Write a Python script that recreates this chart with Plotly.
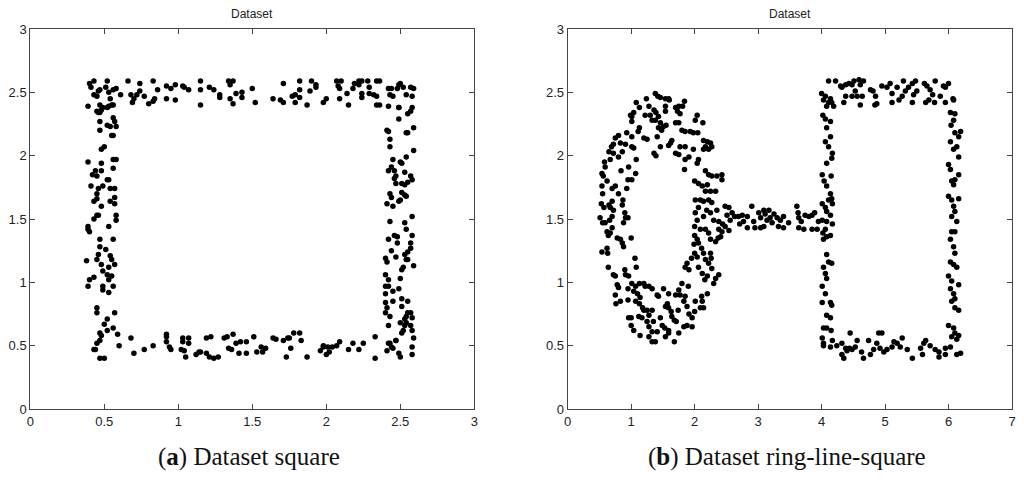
import plotly.graph_objects as go

# ---------------- Data: (a) Dataset square ----------------
sq_top = [(0.39,2.39),(0.40,2.57),(0.41,2.54),(0.43,2.59),(0.43,2.48),(0.45,2.47),(0.46,2.51),(0.47,2.52),
          (0.52,2.59),(0.51,2.54),(0.53,2.50),(0.56,2.52),(0.58,2.53),(0.61,2.48),(0.66,2.59),(0.68,2.48),
          (0.69,2.42),(0.70,2.45),(0.72,2.48),(0.74,2.57),(0.74,2.51),(0.77,2.47),(0.80,2.41),(0.83,2.59),
          (0.83,2.43),(0.84,2.45),(0.86,2.52),(0.92,2.55),(0.92,2.45),(0.95,2.53),(0.98,2.56),(0.98,2.44),
          (1.03,2.55),(1.04,2.54),(1.07,2.52),(1.15,2.59),(1.15,2.52),(1.15,2.40),(1.21,2.54),(1.24,2.52),
          (1.28,2.48),(1.28,2.46),(1.34,2.59),(1.35,2.56),(1.37,2.59),(1.35,2.45),(1.37,2.41),(1.39,2.49),
          (1.43,2.50),(1.43,2.46),(1.50,2.53),(1.52,2.42),(1.64,2.45),(1.69,2.44),(1.71,2.42),(1.71,2.57),
          (1.77,2.47),(1.79,2.48),(1.79,2.42),(1.82,2.59),(1.82,2.52),(1.82,2.46),(1.87,2.40),(1.89,2.51),
          (1.90,2.59),(1.93,2.56),(1.93,2.54),(1.98,2.42),(2.00,2.45),(2.07,2.59),(2.08,2.55),(2.09,2.53),
          (2.10,2.59),(2.09,2.45),(2.14,2.49),(2.15,2.40),(2.18,2.53),(2.19,2.57),(2.22,2.59),(2.22,2.56),
          (2.24,2.59),(2.24,2.49),(2.24,2.46),(2.28,2.59),(2.29,2.54),(2.29,2.49),(2.32,2.48),(2.34,2.47),
          (2.34,2.59),(2.36,2.59),(2.34,2.40),(2.36,2.40),(2.42,2.53),(2.44,2.53),(2.43,2.48),(2.45,2.47),
          (2.48,2.53),(2.49,2.56),(2.50,2.57),(2.52,2.54),(2.54,2.48),(2.57,2.54),(2.59,2.53),(2.58,2.47),
          (2.42,2.39),(2.49,2.38)]
sq_left = [(0.45,2.35),(0.46,2.34),(0.47,2.34),(0.48,2.36),(0.47,2.40),(0.49,2.38),(0.52,2.38),(0.53,2.39),
           (0.54,2.45),(0.55,2.40),(0.56,2.40),(0.47,2.27),(0.47,2.20),(0.52,2.24),(0.54,2.23),(0.56,2.30),
           (0.57,2.27),(0.58,2.23),(0.55,2.16),(0.56,2.16),(0.48,2.05),(0.50,2.07),(0.39,1.95),(0.48,1.94),
           (0.56,1.97),(0.58,1.97),(0.56,1.90),(0.44,1.88),(0.48,1.88),(0.42,1.85),(0.45,1.84),(0.52,1.81),
           (0.53,1.81),(0.49,1.76),(0.41,1.76),(0.46,1.74),(0.54,1.74),(0.57,1.74),(0.45,1.70),(0.45,1.66),
           (0.57,1.67),(0.43,1.64),(0.54,1.64),(0.57,1.62),(0.48,1.60),(0.58,1.53),(0.45,1.53),(0.46,1.53),
           (0.43,1.50),(0.58,1.49),(0.39,1.44),(0.39,1.42),(0.40,1.40),(0.53,1.44),(0.47,1.34),(0.56,1.34),
           (0.47,1.28),(0.51,1.26),(0.54,1.21),(0.46,1.22),(0.45,1.18),(0.38,1.17),(0.55,1.18),(0.57,1.14),
           (0.48,1.14),(0.49,1.09),(0.52,1.06),(0.53,1.12),(0.55,1.05),(0.40,1.02),(0.43,1.04),(0.53,1.02),
           (0.39,0.97),(0.49,0.97),(0.49,0.94),(0.56,0.97),(0.53,0.92),(0.45,0.80),(0.45,0.76),(0.57,0.76),
           (0.52,0.71),(0.50,0.67),(0.56,0.64),(0.52,0.62),(0.47,0.60),(0.48,0.58),(0.59,0.59),(0.47,0.54),
           (0.45,0.52),(0.43,0.47),(0.44,0.47),(0.47,0.40),(0.50,0.40),(0.60,0.50)]
sq_bottom = [(0.68,0.56),(0.70,0.44),(0.77,0.47),(0.83,0.50),(0.92,0.59),(0.92,0.57),(0.92,0.53),(0.94,0.49),
             (0.95,0.47),(1.03,0.56),(1.03,0.53),(1.02,0.47),(1.04,0.46),(1.05,0.41),(1.07,0.56),(1.07,0.52),
             (1.12,0.43),(1.14,0.45),(1.15,0.45),(1.19,0.56),(1.22,0.57),(1.19,0.44),(1.21,0.41),(1.24,0.40),
             (1.27,0.41),(1.31,0.56),(1.33,0.57),(1.34,0.48),(1.36,0.47),(1.37,0.59),(1.39,0.52),(1.42,0.53),
             (1.41,0.44),(1.46,0.53),(1.46,0.44),(1.51,0.57),(1.53,0.45),(1.56,0.49),(1.57,0.45),(1.59,0.48),
             (1.64,0.56),(1.66,0.55),(1.71,0.54),(1.74,0.56),(1.75,0.56),(1.76,0.48),(1.73,0.41),(1.78,0.60),
             (1.82,0.60),(1.83,0.54),(1.87,0.41),(1.96,0.46),(1.98,0.49),(1.98,0.50),(2.00,0.43),(2.01,0.49),
             (2.02,0.45),(2.04,0.49),(2.07,0.50),(2.09,0.53),(2.15,0.47),(2.18,0.52),(2.22,0.47),(2.25,0.52),
             (2.33,0.57),(2.33,0.40),(2.41,0.46),(2.43,0.52),(2.44,0.49),(2.45,0.48),(2.47,0.54),(2.49,0.44),
             (2.50,0.41),(2.58,0.43),(2.58,0.49),(2.59,0.56)]
sq_right = [(2.49,2.29),(2.49,2.38),(2.58,2.38),(2.57,2.35),(2.55,2.33),(2.41,2.20),(2.42,2.19),(2.54,2.18),
            (2.55,2.18),(2.59,2.22),(2.43,2.13),(2.43,2.07),(2.59,2.04),(2.54,1.99),(2.45,1.97),(2.50,1.95),
            (2.51,1.94),(2.42,1.88),(2.44,1.91),(2.46,1.88),(2.53,1.87),(2.57,1.84),(2.58,1.81),(2.47,1.84),
            (2.46,1.82),(2.47,1.78),(2.51,1.78),(2.53,1.77),(2.55,1.79),(2.43,1.70),(2.51,1.71),(2.53,1.69),
            (2.54,1.68),(2.44,1.67),(2.49,1.64),(2.50,1.65),(2.41,1.62),(2.45,1.60),(2.58,1.52),(2.53,1.47),
            (2.54,1.42),(2.43,1.48),(2.58,1.37),(2.46,1.37),(2.48,1.36),(2.42,1.34),(2.48,1.31),(2.57,1.31),
            (2.57,1.27),(2.55,1.24),(2.53,1.22),(2.44,1.25),(2.40,1.19),(2.41,1.16),(2.47,1.20),(2.54,1.18),
            (2.55,1.18),(2.59,1.13),(2.52,1.12),(2.51,1.10),(2.40,1.06),(2.50,1.03),(2.42,1.02),(2.42,0.97),
            (2.40,0.97),(2.49,0.95),(2.45,0.93),(2.40,0.91),(2.51,0.87),(2.55,0.85),(2.40,0.84),(2.45,0.85),
            (2.41,0.80),(2.51,0.81),(2.55,0.76),(2.57,0.76),(2.40,0.76),(2.43,0.73),(2.54,0.73),(2.53,0.71),
            (2.58,0.72),(2.42,0.66),(2.50,0.68),(2.54,0.68),(2.57,0.66),(2.58,0.62),(2.53,0.66),(2.52,0.62),
            (2.51,0.60),(2.47,0.54),(2.42,0.52)]

# ---------------- Data: (b) Dataset ring-line-square ----------------
ring_pts = [(1.38,2.49),(1.42,2.47),(1.46,2.46),(1.54,2.45),(1.60,2.44),(1.59,2.45),(1.24,2.45),(1.28,2.39),
            (1.08,2.42),(1.13,2.38),(1.22,2.32),(1.30,2.32),(1.36,2.36),(1.39,2.34),(1.43,2.31),(1.33,2.28),
            (1.38,2.28),(1.46,2.26),(1.51,2.23),(1.55,2.24),(1.48,2.20),(1.43,2.22),(1.54,2.35),(1.54,2.39),
            (1.70,2.38),(1.75,2.39),(1.73,2.35),(1.77,2.33),(1.84,2.43),(1.81,2.39),(1.70,2.26),(1.75,2.26),
            (1.62,2.10),(1.59,2.08),(1.46,2.07),(1.41,2.15),(1.39,2.00),(1.36,2.02),(1.20,2.14),(1.25,2.13),
            (1.13,2.22),(1.11,2.19),(0.99,2.32),(1.01,2.31),(1.04,2.34),(1.01,2.27),(0.93,2.18),(1.01,2.15),
            (0.91,2.09),(1.01,2.07),(1.04,2.06),(0.80,2.16),(0.75,2.14),(0.72,2.09),(0.69,2.07),(0.83,2.10),
            (0.86,2.03),(0.65,2.03),(0.72,2.02),(0.58,1.95),(0.67,1.97),(0.80,1.99),(1.08,1.97),(0.96,1.91),
            (1.07,1.86),(0.84,1.88),(0.59,1.91),(0.54,1.86),(0.56,1.84),(0.62,1.80),(0.70,1.74),(0.75,1.76),
            (0.80,1.70),(0.95,1.81),(1.01,1.81),(0.93,1.74),(0.54,1.76),(0.55,1.70),(0.53,1.62),(0.57,1.59),
            (0.65,1.61),(0.70,1.64),(0.67,1.59),(0.72,1.57),(0.87,1.65),(0.86,1.61),(0.90,1.55),(0.91,1.51),
            (0.95,1.51),(0.88,1.47),(0.51,1.51),(0.55,1.47),(0.59,1.47),(0.66,1.49),(0.70,1.52),(0.70,1.43),
            (0.62,1.40),(0.67,1.39),(0.64,1.37),(0.78,1.35),(0.83,1.34),(1.00,1.35),(0.54,1.24),(0.62,1.27),
            (0.63,1.23),(0.88,1.28),(0.86,1.31),(0.64,1.12),(1.06,1.19),(1.08,1.12),(0.72,1.06),(0.75,1.05),
            (0.90,1.10),(0.91,1.06),(0.78,0.98),(0.80,0.96),(0.75,0.90),(0.76,0.83),(0.83,0.85),(0.96,1.05),
            (1.01,0.99),(0.95,0.95),(1.07,0.97),(1.04,0.93),(1.13,0.99),(1.20,0.99),(1.22,0.97),(1.28,0.97),
            (1.33,0.95),(1.10,0.91),(1.14,0.88),(0.95,0.86),(1.07,0.85),(1.13,0.83),(1.18,0.80),(1.20,0.78),
            (1.25,0.78),(1.33,0.78),(1.28,0.74),(1.12,0.73),(1.17,0.72),(0.96,0.72),(1.00,0.72),(1.25,0.69),
            (1.35,0.69),(1.28,0.65),(1.33,0.61),(1.41,0.61),(1.00,0.66),(1.04,0.62),(1.14,0.58),(1.28,0.57),
            (1.33,0.53),(1.38,0.53),(1.41,0.90),(1.43,0.89),(1.51,0.95),(1.59,0.91),(1.57,0.83),(1.54,0.81),
            (1.59,0.80),(1.63,0.77),(1.64,0.73),(1.68,0.70),(1.71,0.69),(1.46,0.72),(1.49,0.66),(1.53,0.64),
            (1.59,0.62),(1.59,0.60),(1.54,0.57),(1.68,0.53),(1.75,0.60),(1.83,0.65),(1.88,0.66),(1.96,0.65),
            (1.96,0.72),(2.00,0.77),(2.01,0.85),(2.09,0.80),(2.14,0.80),(2.12,0.85),(2.20,0.91),(2.11,0.89),
            (1.70,0.90),(1.75,0.94),(1.80,0.99),(1.77,0.90),(1.85,0.89),(1.90,0.97),(1.83,0.85),(1.88,0.81),
            (1.91,0.75),(1.74,0.78),(1.85,1.12),(1.88,1.15),(1.91,1.10),(1.95,1.19),(2.00,1.23),(2.04,1.20),
            (1.99,1.30),(2.04,1.34),(2.06,1.31),(2.11,1.27),(2.14,1.23),(2.17,1.18),(2.22,1.15),(2.26,1.19),
            (2.25,1.23),(2.27,1.11),(2.06,1.12),(2.12,1.07),(2.16,1.02),(2.20,1.05),(2.30,0.99),(2.33,1.03),
            (2.38,1.06),(2.33,1.32),(2.37,1.35),(2.41,1.36),(2.25,1.34),(2.22,1.39),(2.17,1.42),(2.09,1.42),
            (2.00,1.37),(2.00,1.44),(2.04,1.49),(2.01,1.55),(2.06,1.59),(2.01,1.65),(2.09,1.65),(2.14,1.64),
            (2.22,1.65),(2.27,1.63),(2.35,1.57),(2.19,1.57),(2.25,1.55),(2.14,1.52),(2.30,1.49),(2.38,1.48),
            (2.44,1.46),(2.38,1.42),(2.06,1.78),(2.00,1.80),(2.12,1.76),(2.17,1.88),(2.22,1.85),(2.27,1.84),
            (2.35,1.84),(2.43,1.85),(2.43,1.81),(2.20,1.77),(2.17,1.72),(2.25,1.72),(2.33,1.72),(1.84,1.89),
            (1.85,1.97),(1.91,1.99),(1.98,2.05),(2.04,1.94),(2.06,1.97),(1.98,2.18),(2.05,2.18),(1.93,2.19),
            (1.85,2.19),(1.80,2.20),(2.04,2.32),(2.01,2.28),(2.13,2.26),(2.14,2.12),(2.20,2.11),(2.25,2.10),
            (2.17,2.07),(2.14,2.05),(2.22,2.05),(2.27,2.07),(1.75,2.01),(1.70,2.02),(1.77,2.07),(1.64,2.12),
            (1.85,2.07)]
line_pts = [(2.48,1.60),(2.54,1.59),(2.51,1.53),(2.59,1.55),(2.56,1.49),(2.63,1.52),(2.48,1.44),(2.54,1.41),
            (2.69,1.52),(2.75,1.53),(2.77,1.48),(2.83,1.52),(2.90,1.60),(2.93,1.48),(3.01,1.55),(3.04,1.51),
            (3.04,1.43),(3.09,1.57),(3.11,1.54),(3.17,1.57),(3.14,1.49),(3.19,1.51),(3.22,1.47),(3.25,1.54),
            (3.30,1.51),(3.35,1.49),(3.32,1.44),(3.40,1.43),(3.40,1.52),(3.48,1.47),(3.09,1.44),(2.95,1.43),
            (2.83,1.43),(3.61,1.60),(3.63,1.55),(3.64,1.51),(3.68,1.48),(3.74,1.53),(3.80,1.52),(3.85,1.53),
            (3.89,1.55),(3.64,1.43),(3.72,1.42),(3.85,1.42),(3.93,1.42),(3.95,1.48),(2.71,1.46),(2.43,1.40)]
box_pts = [(4.00,2.49),(4.03,2.44),(4.06,2.47),(4.11,2.59),(4.08,2.39),(4.11,2.42),(4.16,2.42),(4.19,2.39),
           (4.14,2.45),(4.02,2.32),(4.06,2.29),(4.08,2.22),(4.14,2.27),(4.14,2.15),(4.06,2.11),(4.11,2.07),
           (4.17,2.02),(4.16,1.98),(4.08,1.94),(4.01,1.85),(4.15,1.84),(4.04,1.80),(4.08,1.76),(4.14,1.70),
           (4.01,1.62),(4.11,1.65),(4.16,1.66),(4.17,1.62),(4.06,1.59),(4.08,1.56),(4.14,1.53),(4.01,1.49),
           (4.08,1.48),(4.17,1.46),(4.06,1.42),(4.02,1.39),(4.08,1.36),(4.14,1.37),(4.03,1.34),(4.08,1.22),
           (4.11,1.16),(4.16,1.15),(4.03,1.12),(4.06,1.07),(4.08,1.03),(4.01,0.97),(4.06,0.91),(4.01,0.84),
           (4.14,0.84),(4.16,0.82),(4.08,0.74),(4.14,0.72),(4.03,0.64),(4.08,0.64),(4.15,0.62),(4.01,0.56),
           (4.03,0.52),(4.03,0.50),(4.14,0.49),(4.17,0.54),
           (4.22,2.59),(4.30,2.55),(4.32,2.54),(4.38,2.56),(4.43,2.57),(4.48,2.56),(4.51,2.59),(4.59,2.60),
           (4.66,2.59),(4.61,2.56),(4.53,2.51),(4.56,2.47),(4.48,2.47),(4.38,2.47),(4.35,2.42),(4.64,2.47),
           (4.61,2.40),(4.77,2.52),(4.81,2.51),(4.85,2.47),(4.84,2.40),(4.87,2.41),(4.95,2.55),(5.03,2.54),
           (5.08,2.57),(5.11,2.49),(5.11,2.42),(5.19,2.54),(5.22,2.44),(5.27,2.47),(5.32,2.51),(5.29,2.59),
           (5.37,2.54),(5.43,2.57),(5.43,2.42),(5.48,2.59),(5.45,2.48),(5.50,2.51),(5.62,2.57),(5.66,2.55),
           (5.64,2.42),(5.69,2.44),(5.71,2.52),(5.75,2.48),(5.79,2.59),(5.78,2.42),(5.87,2.47),(5.92,2.55),
           (5.95,2.54),(6.00,2.57),(5.95,2.42),(6.07,2.45),(6.08,2.44),
           (6.03,2.34),(6.10,2.33),(6.08,2.28),(6.04,2.24),(6.19,2.19),(6.16,2.15),(6.10,2.18),(6.03,2.11),
           (6.08,2.05),(6.13,2.07),(6.16,1.99),(6.00,1.93),(6.03,1.89),(6.16,1.85),(6.05,1.80),(6.08,1.77),
           (6.10,1.81),(6.00,1.68),(6.05,1.65),(6.16,1.66),(6.08,1.60),(6.10,1.56),(6.05,1.52),(6.13,1.48),
           (6.05,1.40),(6.10,1.40),(6.03,1.34),(6.08,1.28),(6.10,1.23),(6.03,1.16),(6.08,1.14),(6.13,1.12),
           (6.00,1.05),(6.05,1.01),(6.03,0.95),(6.16,0.98),(6.08,0.91),(6.10,0.87),(6.05,0.85),(6.10,0.80),
           (6.16,0.78),(6.00,0.66),(6.08,0.64),(6.10,0.60),(6.16,0.58),(6.05,0.57),(6.13,0.55),(6.03,0.49),
           (6.13,0.43),(6.19,0.44),
           (4.24,0.50),(4.32,0.52),(4.38,0.48),(4.32,0.43),(4.35,0.40),(4.40,0.46),(4.44,0.48),(4.45,0.60),
           (4.48,0.47),(4.53,0.49),(4.56,0.54),(4.63,0.45),(4.66,0.40),(4.74,0.54),(4.77,0.43),(4.82,0.47),
           (4.87,0.52),(4.90,0.60),(4.95,0.60),(4.92,0.48),(4.98,0.45),(5.03,0.47),(5.11,0.49),(5.14,0.53),
           (5.19,0.52),(5.24,0.49),(5.27,0.56),(5.35,0.47),(5.43,0.40),(5.56,0.48),(5.61,0.52),(5.64,0.54),
           (5.59,0.43),(5.71,0.50),(5.79,0.47),(5.85,0.45),(5.85,0.41),(5.95,0.43),(5.95,0.48)]

panel_titles = ["Dataset", "Dataset"]
captions = ["(<b>a</b>) Dataset square", "(<b>b</b>) Dataset ring-line-square"]
x_ticks_a = [0, 0.5, 1, 1.5, 2, 2.5, 3]
x_ticks_b = [0, 1, 2, 3, 4, 5, 6, 7]
y_ticks = [0, 0.5, 1, 1.5, 2, 2.5, 3]

square_all = sq_top + sq_left + sq_bottom + sq_right
rls_all = ring_pts + line_pts + box_pts

fig = go.Figure()
marker = dict(color="black", size=5.5, line=dict(width=0))
fig.add_trace(go.Scatter(x=[p[0] for p in square_all], y=[p[1] for p in square_all],
                         mode="markers", marker=marker, xaxis="x", yaxis="y", showlegend=False,
                         hoverinfo="skip"))
fig.add_trace(go.Scatter(x=[p[0] for p in rls_all], y=[p[1] for p in rls_all],
                         mode="markers", marker=marker, xaxis="x2", yaxis="y2", showlegend=False,
                         hoverinfo="skip"))

W, H = 1024, 485
ML, MR, MT, MB = 30, 12, 29, 76          # plot area: x 30..1012, y 29..409
PW, PH = W - ML - MR, H - MT - MB


def fx(px):
    return (px - ML) / PW


def fy(py):
    return (H - MB - py) / PH


axis_common = dict(showline=True, linecolor="#444", linewidth=1, mirror="allticks",
                   ticks="inside", ticklen=5, tickcolor="#444", showgrid=False, zeroline=False,
                   automargin=False,
                   tickfont=dict(family="Liberation Sans, Arial", size=13, color="#222"))

fig.update_layout(
    template="none",
    width=W, height=H, margin=dict(l=ML, r=MR, t=MT, b=MB, pad=0, autoexpand=False),
    paper_bgcolor="white", plot_bgcolor="white", showlegend=False,
    xaxis=dict(domain=[fx(30.3), fx(474.3)], range=[0, 3], tickvals=x_ticks_a,
               ticktext=[f"{v:g}" for v in x_ticks_a], anchor="y", **axis_common),
    yaxis=dict(domain=[0, 1], range=[0, 3], tickvals=y_ticks,
               ticktext=[f"{v:g}" for v in y_ticks], anchor="x", **axis_common),
    xaxis2=dict(domain=[fx(567.7), fx(1012)], range=[0, 7], tickvals=x_ticks_b,
                ticktext=[f"{v:g}" for v in x_ticks_b], anchor="y2", **axis_common),
    yaxis2=dict(domain=[0, 1], range=[0, 3], tickvals=y_ticks,
                ticktext=[f"{v:g}" for v in y_ticks], anchor="x2", **axis_common),
)

centers = [fx((30.3 + 474.3) / 2), fx((567.7 + 1012) / 2)]
for c, t in zip(centers, panel_titles):
    fig.add_annotation(x=c, y=fy(14), xref="paper", yref="paper", text=t, showarrow=False,
                       font=dict(family="Liberation Sans, Arial", size=12, color="#222"),
                       xanchor="center", yanchor="middle")
for c, t in zip([fx(249), fx(787)], captions):
    fig.add_annotation(x=c, y=fy(457), xref="paper", yref="paper", text=t, showarrow=False,
                       font=dict(family="Liberation Serif, Times New Roman", size=25, color="#111"),
                       xanchor="center", yanchor="middle")

fig.write_html("out.html", config={"displayModeBar": False},
               post_script="document.body.style.margin='0';document.body.style.overflow='hidden';")
